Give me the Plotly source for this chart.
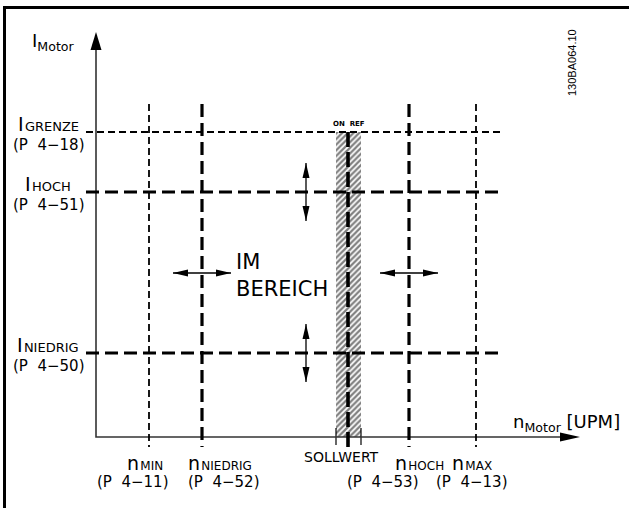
import plotly.graph_objects as go

# Schematic units: 1 unit = 1 px, origin where the two axes cross
speed_main = ["n", "n", "n", "n"]
speed_subs = ["MIN", "NIEDRIG", "HOCH", "MAX"]
speed_params = ["(P&nbsp;&nbsp;4−11)", "(P&nbsp;&nbsp;4−52)", "(P&nbsp;&nbsp;4−53)", "(P&nbsp;&nbsp;4−13)"]
speed_values = [53, 106, 313, 380]

current_main = ["I", "I", "I"]
current_subs = ["GRENZE", "HOCH", "NIEDRIG"]
current_params = ["(P&nbsp;&nbsp;4−18)", "(P&nbsp;&nbsp;4−51)", "(P&nbsp;&nbsp;4−50)"]
current_values = [305, 245, 84]

setpoint = 252
setpoint_band = [240, 265]

# window arrows sit on n_NIEDRIG / n_HOCH and I_HOCH / I_NIEDRIG
speed_arrows = [106, 313]
current_arrows = [245, 84]

# ---- styling ----
FONT = "DejaVu Sans"
THIN = dict(color="black", width=1.8, dash="7px,4px")
THICK = dict(color="black", width=3.2, dash="13px,6px")
speed_styles = [THIN, THICK, THICK, THIN]
current_styles = [THIN, THICK, THICK]
speed_name_dx = [-4, 18, 10, -4]
speed_param_dx = [-17, 21, -27, -5]

X_RANGE = [-96, 533]
Y_RANGE = [-71, 437]
LINE_TOP = 333
LINE_LEFT = -10
LINE_RIGHT = 407
LINE_BOTTOM = -10


def head(tx, ty, ux, uy, length, half):
    bx, by = tx - ux * length, ty - uy * length
    px, py = -uy, ux
    return (f"M{tx},{ty} L{bx + px * half},{by + py * half} "
            f"L{bx - px * half},{by - py * half} Z")


def symbol(main, sub):
    return (f"<span style='font-size:19px'>{main}</span>"
            f"<span style='font-size:4px'>&nbsp;</span>{sub}")


fig = go.Figure()

# hatched setpoint band
fig.add_trace(go.Bar(
    x=[sum(setpoint_band) / 2], y=[current_values[0]], base=[0],
    width=[setpoint_band[1] - setpoint_band[0]],
    marker=dict(color="white", line=dict(width=0),
                pattern=dict(shape="/", fgcolor="black", bgcolor="white",
                             size=4, solidity=0.55)),
    hoverinfo="skip", showlegend=False,
))

# band edge ticks
for bx in setpoint_band:
    fig.add_trace(go.Scatter(x=[bx, bx], y=[9, -8], mode="lines",
                             line=dict(color="black", width=1.2),
                             hoverinfo="skip", showlegend=False))

# axes
fig.add_trace(go.Scatter(x=[0, 0, 466], y=[390, 0, 0], mode="lines",
                         line=dict(color="#333", width=1.6),
                         hoverinfo="skip", showlegend=False))

# speed thresholds
for v, st in zip(speed_values, speed_styles):
    fig.add_trace(go.Scatter(x=[v, v], y=[LINE_TOP, LINE_BOTTOM], mode="lines",
                             line=st, hoverinfo="skip", showlegend=False))

# current thresholds
for v, st in zip(current_values, current_styles):
    fig.add_trace(go.Scatter(x=[LINE_LEFT, LINE_RIGHT], y=[v, v], mode="lines",
                             line=st, hoverinfo="skip", showlegend=False))

# setpoint line
fig.add_trace(go.Scatter(x=[setpoint, setpoint], y=[current_values[0], LINE_BOTTOM],
                         mode="lines",
                         line=dict(color="black", width=3.6, dash="15px,5px"),
                         hoverinfo="skip", showlegend=False))

shapes = []
# axis arrowheads
shapes.append(dict(type="path", path=head(0, 405, 0, 1, 18, 5.5)))
shapes.append(dict(type="path", path=head(484, 0, 1, 0, 20, 4.5)))

# double arrows
ARROW_Y = 164
ARROW_X = 210
HALF = 29
for c in speed_arrows:
    fig.add_trace(go.Scatter(x=[c - HALF, c + HALF], y=[ARROW_Y, ARROW_Y], mode="lines",
                             line=dict(color="black", width=1.3),
                             hoverinfo="skip", showlegend=False))
    shapes.append(dict(type="path", path=head(c + HALF, ARROW_Y, 1, 0, 15, 3.5)))
    shapes.append(dict(type="path", path=head(c - HALF, ARROW_Y, -1, 0, 15, 3.5)))
for c in current_arrows:
    fig.add_trace(go.Scatter(x=[ARROW_X, ARROW_X], y=[c - HALF, c + HALF], mode="lines",
                             line=dict(color="black", width=1.3),
                             hoverinfo="skip", showlegend=False))
    shapes.append(dict(type="path", path=head(ARROW_X, c + HALF, 0, 1, 15, 3.5)))
    shapes.append(dict(type="path", path=head(ARROW_X, c - HALF, 0, -1, 15, 3.5)))

for s in shapes:
    s.update(xref="x", yref="y", fillcolor="black", line=dict(width=0))

# frame (top and left edges visible)
shapes.append(dict(type="rect", xref="x", yref="y", x0=-91.5, y0=429.5, x1=700, y1=-200,
                   line=dict(color="black", width=3)))

fig.update_layout(shapes=shapes)


def label(x, y, text, size, xanchor="center", **kw):
    fig.add_annotation(x=x, y=y, xref="x", yref="y", text=text, showarrow=False,
                       xanchor=xanchor, yanchor="middle",
                       font=dict(family=FONT, size=size, color="black"), **kw)


# current labels on the left
for m, sub, par, v in zip(current_main, current_subs, current_params, current_values):
    label(-48, v + 8, symbol(m, sub), 13)
    label(-48, v - 13, par, 15)

# speed labels below
for m, sub, par, v, dn, dp in zip(speed_main, speed_subs, speed_params, speed_values,
                                  speed_name_dx, speed_param_dx):
    label(v + dn, -26, symbol(m, sub), 12)
    label(v + dp, -45, par, 15)

label(setpoint - 7, -20, "SOLLWERT", 14)
label(setpoint + 1, 313, "<b>ON&nbsp;&nbsp;REF</b>", 7)

label(-66, 395, "I<sub>Motor</sub>", 18, xanchor="left")
label(415, 14, "n<sub>Motor</sub> <span style='font-size:18px'>[UPM]</span>", 18,
      xanchor="left")
label(138, 162, "IM<br>BEREICH", 21, xanchor="left", align="left")

fig.add_annotation(x=476, y=374, xref="x", yref="y", text="130BA064.10",
                   showarrow=False, textangle=-90,
                   font=dict(family="Liberation Sans", size=11, color="black"))

fig.update_xaxes(range=X_RANGE, visible=False, fixedrange=True)
fig.update_yaxes(range=Y_RANGE, visible=False, fixedrange=True)
fig.update_layout(
    width=629, height=508,
    margin=dict(l=0, r=0, t=0, b=0),
    plot_bgcolor="white", paper_bgcolor="white",
    showlegend=False,
)

# drop the browser's default page margin so the figure fills the window
fig.write_html("out.html", config={"displayModeBar": False},
               post_script="document.body.style.margin='0';")
